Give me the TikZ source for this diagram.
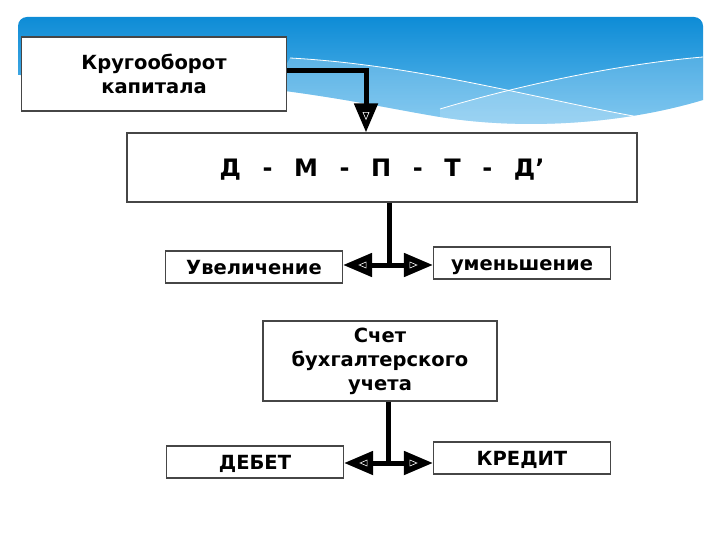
\documentclass[tikz,border=0pt]{standalone}
\usepackage{fontspec}
\setmainfont{DejaVu Sans}
\usetikzlibrary{arrows.meta,calc}

\definecolor{bandtop}{RGB}{14,140,214}
\definecolor{bandbot}{RGB}{105,190,238}
\definecolor{boxline}{RGB}{70,70,70}

\tikzset{
    plainbox/.style={draw=boxline, line width=1.2pt, fill=white, inner sep=0pt,
        align=center, font=\fontsize{19.5}{24}\selectfont\bfseries},
    onerow/.style={plainbox, text height=14.2pt, text depth=0pt},
    link/.style={line width=5pt, -{Triangle[length=29pt,width=23pt]}},
    stem/.style={line width=5pt},
    innertri/.pic={\draw[white, line width=0.6pt] (-4,0) -- (3,-3) -- (3,3) -- cycle;}
}

\begin{document}
\begin{tikzpicture}[x=1pt, y=-1pt]
    \useasboundingbox (0,0) rectangle (720,540);

    %Blue band on top
    \begin{scope}
        \clip (18,75) [rounded corners=9pt]-- (18,17) -- (703,17) [sharp corners]-- (703,100)
            .. controls (620,125) and (520,130) .. (440,117)
            .. controls (360,104) and (250,75) .. (18,75) -- cycle;
        \shade[top color=bandtop, bottom color=bandbot] (18,17) rectangle (703,130);
        \fill[white, opacity=0.22] (290,58) .. controls (420,65) and (540,100) .. (650,119)
            -- (703,130) -- (250,130) -- cycle;
        \fill[white, opacity=0.18] (440,109) .. controls (520,85) and (620,64) .. (703,57)
            -- (703,130) -- (440,130) -- cycle;
        \draw[white, line width=0.8pt] (290,58) .. controls (420,65) and (540,100) .. (650,119);
        \draw[white, line width=0.8pt] (440,109) .. controls (520,85) and (620,64) .. (703,57);
    \end{scope}

    %Boxes
    \node[plainbox, minimum width=265pt, minimum height=74pt] (krug) at (154,74) {Кругооборот\\капитала};
    \node[onerow, minimum width=510pt, minimum height=69pt, text height=17.5pt, font=\fontsize{24}{30}\selectfont\bfseries]
        (formula) at (382,167.5) {Д\hspace{0.9em}-\hspace{0.9em}М\hspace{0.9em}-\hspace{0.9em}П\hspace{0.9em}-\hspace{0.9em}Т\hspace{0.9em}-\hspace{0.9em}Д’};
    \node[onerow, minimum width=177pt, minimum height=32pt] (uvel) at (254,267) {Увеличение};
    \node[onerow, minimum width=177pt, minimum height=32pt] (umen) at (522,263) {уменьшение};

    \node[plainbox, minimum width=234pt, minimum height=80pt] (schet) at (380,361) {Счет\\бухгалтерского\\учета};
    \node[onerow, minimum width=177pt, minimum height=32pt] (debet) at (255,462) {ДЕБЕТ};
    \node[onerow, minimum width=177pt, minimum height=32pt] (kredit) at (522,458) {КРЕДИТ};

    %Connectors
    \coordinate (bend) at (366,71);
    \draw[line width=5pt] (krug.east |- bend) -- (bend);
    \draw[link] ($(bend)+(0,-2.5)$) -- (bend |- formula.north);

    \coordinate (fork1) at (389,265);
    \draw[stem] (formula.south -| fork1) -- ($(fork1)+(0,2.5)$);
    \draw[link] (fork1) -- (uvel.east |- fork1);
    \draw[link] (fork1) -- (umen.west |- fork1);

    \coordinate (fork2) at (388,463);
    \draw[stem] (schet.south -| fork2) -- ($(fork2)+(0,2.5)$);
    \draw[link] (fork2) -- (debet.east |- fork2);
    \draw[link] (fork2) -- (kredit.west |- fork2);

    %little marks inside the arrow heads
    \pic[rotate=90] at ($(bend |- formula.north)+(0,-17)$) {innertri};
    \pic at ($(uvel.east |- fork1)+(20,0)$) {innertri};
    \pic[rotate=180] at ($(umen.west |- fork1)+(-20,0)$) {innertri};
    \pic at ($(debet.east |- fork2)+(20,0)$) {innertri};
    \pic[rotate=180] at ($(kredit.west |- fork2)+(-20,0)$) {innertri};
\end{tikzpicture}
\end{document}
